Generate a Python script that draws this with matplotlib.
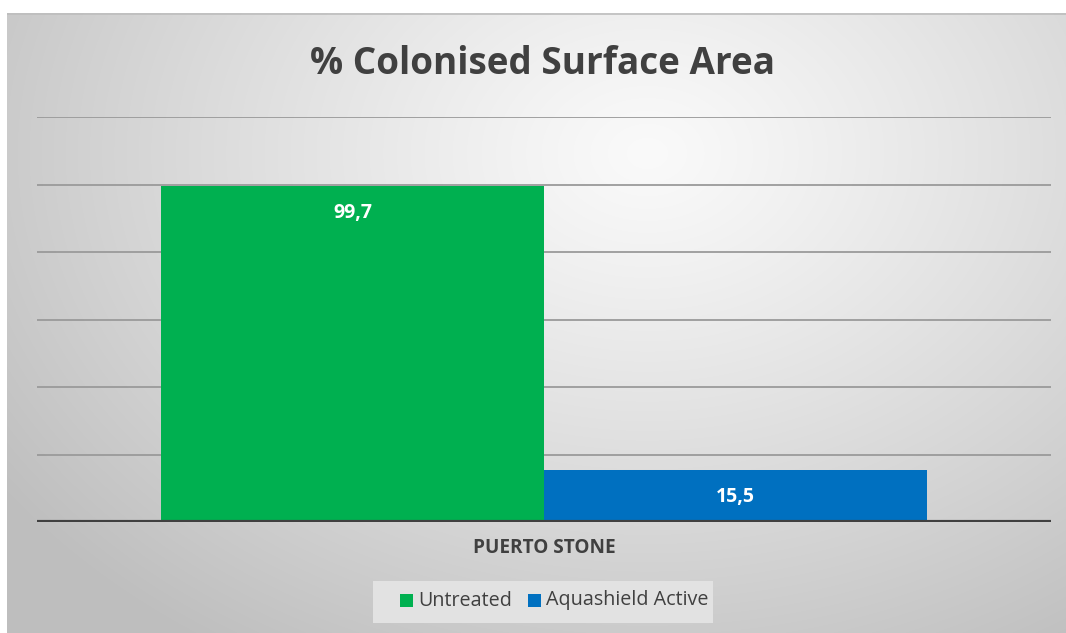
import numpy as np
import matplotlib
matplotlib.use("Agg")
import matplotlib.pyplot as plt
from matplotlib.patches import Rectangle

title = "% Colonised Surface Area"
categories = ["PUERTO STONE"]
series_names = ["Untreated", "Aquashield Active"]
series_values = [[99.7], [15.5]]
series_labels = [["99,7"], ["15,5"]]
colors = ["#00b050", "#0070c0"]

W, H = 1066, 633
fig = plt.figure(figsize=(W / 100, H / 100), dpi=100)
fig.patch.set_facecolor("white")

# background gradient panel
bx0, by0, bx1, by1 = 7, 13, 1066, 633
bg = fig.add_axes([bx0 / W, 1 - by1 / H, (bx1 - bx0) / W, (by1 - by0) / H])
bg.set_axis_off()
yy, xx = np.mgrid[0:by1 - by0, 0:bx1 - bx0]
cx, cy = 640, 140
d = np.sqrt(((xx - cx) / 720.0) ** 2 + ((yy - cy) / 540.0) ** 2)
d = np.clip(d, 0, 1.1)
val = 0.98 - 0.21 * d ** 1.15
img = np.dstack([val, val, val])
bg.imshow(img, aspect="auto", extent=[0, 1, 0, 1], interpolation="bilinear")
bg.set_xlim(0, 1); bg.set_ylim(0, 1)
bg.plot([0, 1], [0.999, 0.999], color="#bdbdbd", lw=1.2)

font = "Open Sans"
# main axes
ax_l, ax_r = 37, 1051
y0px, y120px = 522, 117
ax = fig.add_axes([ax_l / W, (H - y0px) / H, (ax_r - ax_l) / W, (y0px - y120px) / H])
ax.patch.set_alpha(0)
ax.set_ylim(0, 120)
ax.set_xlim(-0.5, 0.5)
ax.set_yticks(np.arange(0, 121, 20))
ax.yaxis.grid(True, color="#9a9a9a", lw=1.3)
ax.set_axisbelow(True)
for s in ax.spines.values():
    s.set_visible(False)
ax.tick_params(left=False, bottom=False, labelleft=False, labelbottom=False)
ax.axhline(0, color="#404040", lw=3, zorder=5)

bw = 383 / (ax_r - ax_l)
x = np.arange(len(categories))
for i, (vals, labs, c) in enumerate(zip(series_values, series_labels, colors)):
    off = (i - 0.5) * bw
    bars = ax.bar(x + off, vals, width=bw, color=c, zorder=3, label=series_names[i])
    for b, lab in zip(bars, labs):
        ax.annotate(lab, (b.get_x() + b.get_width() / 2, b.get_height()),
                    xytext=(0, -20), textcoords="offset points",
                    ha="center", va="center", color="white",
                    fontsize=14, fontweight="bold", family=font, zorder=6)

for xi, cat in zip(x, categories):
    fig.text((ax_l + ax_r) / 2 / W, 1 - 548 / H, cat, ha="center", va="center",
             fontsize=13.7, fontweight="bold", color="#404040", family=font)

fig.text(543 / W, 1 - 63.5 / H, title, ha="center", va="center",
         fontsize=26.6, fontweight="bold", color="#404040", family=font)

# legend box
lg = fig.add_axes([373 / W, 1 - 623 / H, (713 - 373) / W, (623 - 581) / H])
lg.set_axis_off()
lg.set_xlim(373, 713); lg.set_ylim(623, 581)
lg.add_patch(Rectangle((373, 581), 340, 42, color="#e2e2e2", lw=0))
items = [(400, 413, series_names[0], colors[0]), (528, 541, series_names[1], colors[1])]
for sx, tx, name, c in items:
    lg.add_patch(Rectangle((sx, 594), 13, 13, color=c, lw=0))
    lg.text(tx + 5, 600.5, name, ha="left", va="center", fontsize=14.2,
            color="#404040", family=font)

fig.savefig("out.png", dpi=100, facecolor=fig.get_facecolor())
